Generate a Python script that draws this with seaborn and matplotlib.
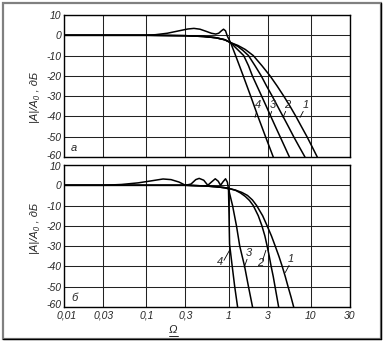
import numpy as np
import pandas as pd
import matplotlib
matplotlib.use("Agg")
import matplotlib.pyplot as plt
from matplotlib.patches import Rectangle
from matplotlib.lines import Line2D
from matplotlib.transforms import ScaledTranslation
import seaborn as sns

# ---- frequency axis ----
omega_ticks = [0.01, 0.03, 0.1, 0.3, 1, 3, 10, 30]
omega_tick_labels = ["0,01", "0,03", "0,1", "0,3", "1", "3", "10", "30"]
db_ticks = [10, 0, -10, -20, -30, -40, -50, -60]
db_tick_labels = ["10", "0", "-10", "-20", "-30", "-40", "-50", "-60"]

# ---- panel а ----
a1_omega = [0.01, 0.1, 0.3, 0.5, 0.7, 0.9, 1.06, 1.3, 1.6, 2.0, 2.55, 3.2, 3.9, 4.7, 5.6,
            6.6, 7.7, 9.0, 10.4, 12.0]
a1_db = [0, 0, -0.2, -0.6, -1.2, -2.2, -3.6, -5.0, -7.0, -10, -15, -20, -25, -30, -35,
         -40, -45, -50, -55, -60]
a2_omega = [0.01, 0.1, 0.3, 0.5, 0.7, 0.9, 1.06, 1.3, 1.5, 1.75, 2.1, 2.5, 2.9, 3.4, 3.95,
            4.6, 5.35, 6.2, 7.25, 8.5]
a2_db = [0, 0, -0.2, -0.6, -1.2, -2.2, -3.6, -5.5, -7.5, -10, -15, -20, -25, -30, -35,
         -40, -45, -50, -55, -60]
a3_omega = [0.01, 0.1, 0.3, 0.5, 0.7, 0.9, 1.06, 1.25, 1.53, 1.75, 1.95, 2.22, 2.53, 2.88,
            3.27, 3.72, 4.24, 4.83, 5.5]
a3_db = [0, 0, -0.2, -0.6, -1.2, -2.2, -3.6, -6.5, -10, -15, -20, -25, -30, -35,
         -40, -45, -50, -55, -60]
a4_omega = [0.01, 0.1, 0.13, 0.18, 0.25, 0.32, 0.38, 0.45, 0.53, 0.62, 0.7, 0.76, 0.82, 0.87,
            0.92, 0.97, 1.06, 1.22, 1.51, 1.86, 2.28, 2.82, 3.5]
a4_db = [0, 0, 0.3, 1.0, 2.2, 3.1, 3.4, 3.0, 2.0, 1.0, 0.6, 1.0, 2.2, 3.0,
         2.2, -0.5, -3.6, -10, -20, -30, -40, -50, -60]

# ---- panel б ----
b1_omega = [0.01, 0.3, 0.5, 0.7, 0.9, 1.0, 1.22, 1.45, 1.7, 1.95, 2.2, 2.6, 2.95, 3.33,
            3.7, 4.1, 4.5, 4.9, 5.3, 5.75, 6.2]
b1_db = [0, 0, -0.3, -0.7, -1.2, -1.5, -2.4, -3.5, -5, -7.2, -10, -15, -20, -25,
         -30, -35, -40, -45, -50, -55, -60]
b2_omega = [0.01, 0.3, 0.5, 0.7, 0.9, 1.0, 1.22, 1.4, 1.6, 1.8, 2.0, 2.3, 2.55, 2.77,
            2.95, 3.13, 3.3, 3.5, 3.68, 3.87, 4.07]
b2_db = [0, 0, -0.3, -0.7, -1.2, -1.5, -2.5, -3.8, -5.5, -7.5, -10, -15, -20, -25,
         -30, -35, -40, -45, -50, -55, -60]
b3_omega = [0.01, 0.3, 0.5, 0.7, 0.9, 1.0, 1.12, 1.25, 1.37, 1.57, 1.75, 1.96]
b3_db = [0, 0, -0.3, -0.7, -1.2, -1.8, -10, -20, -30, -40, -50, -60]
b4_omega = [0.01, 0.03, 0.05, 0.08, 0.12, 0.16, 0.2, 0.25, 0.3, 0.35, 0.4, 0.44, 0.5, 0.56,
            0.62, 0.69, 0.75, 0.8, 0.86, 0.92, 0.97, 1.0, 1.015, 1.03, 1.11, 1.19, 1.29]
b4_db = [0, 0, 0.4, 1.2, 2.3, 3.1, 2.8, 1.6, 0, 0.6, 2.8, 3.4, 2.5, 0,
         1.6, 3.2, 2.0, 0, 1.8, 3.2, 1.5, -2, -15, -29, -40, -50, -60]

curve_names = ["1", "2", "3", "4"]

sns.set_style("white")
plt.rcParams["font.family"] = ["Liberation Sans Narrow", "Liberation Sans", "DejaVu Sans"]
plt.rcParams["font.style"] = "italic"

W, H = 383, 341
fig = plt.figure(figsize=(W / 100, H / 100), dpi=100)
fig.patch.set_facecolor("white")

ax_a = fig.add_axes([64 / W, 1 - 157 / H, 286 / W, 142 / H])
ax_b = fig.add_axes([64 / W, 1 - 307 / H, 286 / W, 142 / H])

panels = [
    (ax_a, [(a1_omega, a1_db), (a2_omega, a2_db), (a3_omega, a3_db), (a4_omega, a4_db)], "а"),
    (ax_b, [(b1_omega, b1_db), (b2_omega, b2_db), (b3_omega, b3_db), (b4_omega, b4_db)], "б"),
]

for ax, curves, letter in panels:
    for (om, db), name in zip(curves, curve_names):
        df = pd.DataFrame({"omega": om, "db": db})
        sns.lineplot(data=df, x="omega", y="db", ax=ax, color="black",
                     linewidth=1.1, sort=False, estimator=None)
    ax.set_xscale("log")
    ax.set_xlim(0.01, 30)
    ax.set_ylim(-60, 10)
    ax.set_xticks(omega_ticks)
    ax.minorticks_off()
    ax.set_yticks(db_ticks)
    ax.set_yticklabels(db_tick_labels)
    ax.grid(True, color="#222222", linewidth=0.75)
    ax.set_axisbelow(True)
    ax.tick_params(length=0, labelsize=7.5, pad=2)
    for s in ax.spines.values():
        s.set_color("black")
        s.set_linewidth(1.0)
    ax.set_xlabel("")
    ax.set_ylabel("|A|/A₀ , дБ", fontsize=8)
    ax.text(0.025, 0.03, letter, transform=ax.transAxes, fontsize=8,
            ha="left", va="bottom")

ax_a.set_xticklabels([])
ax_b.set_xticklabels(omega_tick_labels)
ax_a.yaxis.set_label_coords(-0.085, 0.42)
ax_b.yaxis.set_label_coords(-0.085, 0.55)
ax_b.set_xlabel("Ω", fontsize=8)
ax_b.xaxis.set_label_coords(0.38, -0.125)


def nudge(text, dx_px, dy_px):
    text.set_transform(text.get_transform() +
                       ScaledTranslation(dx_px / 100, dy_px / 100, fig.dpi_scale_trans))


# keep the stacked tick labels at the panel seam and the corner apart
nudge(ax_a.get_yticklabels()[-1], 0, 2)
nudge(ax_b.get_yticklabels()[0], 0, -1.5)
nudge(ax_b.get_yticklabels()[-1], 0, 2.5)
for lab in ax_b.get_xticklabels():
    nudge(lab, 0, -1)
nudge(ax_b.get_xticklabels()[0], 3, 0)

# curve numbers with short leader strokes
leader = dict(arrowstyle="-", color="black", linewidth=0.6, shrinkA=0, shrinkB=0)
labels_a = {"4": ((2.3, -34.5), (2.2, -37.5), (2.1, -40.5)),
            "3": ((3.5, -34.5), (3.35, -37.5), (3.15, -40.5)),
            "2": ((5.2, -34.5), (4.95, -37.5), (4.6, -40.5)),
            "1": ((8.6, -34.5), (8.1, -37.5), (7.4, -40.5))}
labels_b = {"4": ((0.8, -38), (0.88, -37), (1.03, -32)),
            "3": ((1.78, -33.5), (1.68, -36.5), (1.55, -40.5)),
            "2": ((2.4, -38.5), (2.6, -37), (2.85, -32)),
            "1": ((5.8, -36.5), (5.45, -39.5), (4.9, -43))}
for ax, labels in ((ax_a, labels_a), (ax_b, labels_b)):
    for name, (txt, p0, p1) in labels.items():
        ax.text(txt[0], txt[1], name, fontsize=8, ha="center", va="center")
        ax.annotate("", xy=p1, xytext=p0, arrowprops=leader)

# underline under Ω
fig.add_artist(Line2D([169 / W, 178 / W], [1 - 335.5 / H, 1 - 335.5 / H],
                      color="black", linewidth=0.6))

# outer frame
fig.add_artist(Rectangle((3 / W, 2 / H), 378 / W, 336 / H, transform=fig.transFigure,
                         fill=False, edgecolor="#808080", linewidth=1.6))
fig.add_artist(Line2D([381 / W, 381 / W], [2 / H, 338 / H], color="black", linewidth=1.0))
fig.add_artist(Line2D([3 / W, 381 / W], [2 / H, 2 / H], color="black", linewidth=1.0))

fig.savefig("out.png", dpi=100)
